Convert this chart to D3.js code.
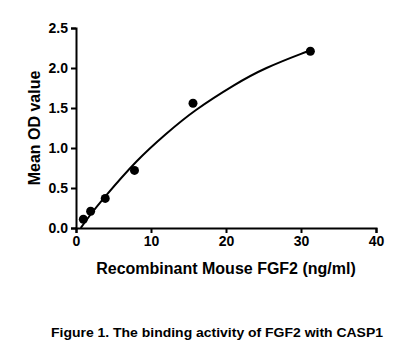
<!DOCTYPE html>
<html><head><meta charset="utf-8">
<script src="https://cdn.jsdelivr.net/npm/d3@7"></script>
<style>body{margin:0;background:#fff}svg{display:block}text{font-family:"Liberation Sans",Arial,sans-serif;font-weight:bold;fill:#000}</style>
</head><body><svg id="c" width="413" height="347"></svg>
<script>
const concentrations = [0.98, 1.95, 3.9, 7.8, 15.6, 31.25];
const odValues = [0.11, 0.21, 0.37, 0.72, 1.56, 2.21];
const fitX = [0.63, 2, 4, 8, 12, 16, 21, 25.4, 30, 31.25];
const fitY = [0, 0.175, 0.405, 0.825, 1.175, 1.475, 1.78, 2.00, 2.177, 2.218];
const xTicks = [0, 10, 20, 30, 40];
const yTicks = [0.0, 0.5, 1.0, 1.5, 2.0, 2.5];

const svg = d3.select("#c");
const x = d3.scaleLinear().domain([0, 40]).range([76, 376]);
const y = d3.scaleLinear().domain([0, 2.5]).range([228, 28]);

const xAxis = svg.append("g").attr("transform","translate(0,228)")
  .call(d3.axisBottom(x).tickValues(xTicks).tickFormat(d3.format("d")).tickSize(5).tickPadding(3));
const yAxis = svg.append("g").attr("transform","translate(76,0)")
  .call(d3.axisLeft(y).tickValues(yTicks).tickFormat(d3.format(".1f")).tickSize(5).tickPadding(3));
[xAxis, yAxis].forEach(g => {
  g.select(".domain").attr("stroke","#000").attr("stroke-width",2);
  g.selectAll(".tick line").attr("stroke","#000").attr("stroke-width",2);
  g.selectAll(".tick text").style("font-size","14px").style("font-weight","bold").attr("fill","#000");
});

svg.append("path")
  .datum(fitX.map((v,i)=>[v, fitY[i]]))
  .attr("fill","none").attr("stroke","#000").attr("stroke-width",2)
  .attr("d", d3.line().x(d=>x(d[0])).y(d=>y(d[1])).curve(d3.curveNatural));

svg.append("g").selectAll("circle")
  .data(concentrations.map((c,i)=>[c, odValues[i]]))
  .join("circle").attr("cx",d=>x(d[0])).attr("cy",d=>y(d[1])).attr("r",4.5).attr("fill","#000");

svg.append("text").attr("x",226).attr("y",274).attr("text-anchor","middle")
  .style("font-size","16px").text("Recombinant Mouse FGF2 (ng/ml)");
svg.append("text").attr("transform","translate(40,128) rotate(-90)").attr("text-anchor","middle")
  .style("font-size","16px").text("Mean OD value");
svg.append("text").attr("x",51).attr("y",337).attr("textLength",332).attr("lengthAdjust","spacingAndGlyphs")
  .style("font-size","12.5px").text("Figure 1. The binding activity of FGF2 with CASP1");
</script></body></html>
